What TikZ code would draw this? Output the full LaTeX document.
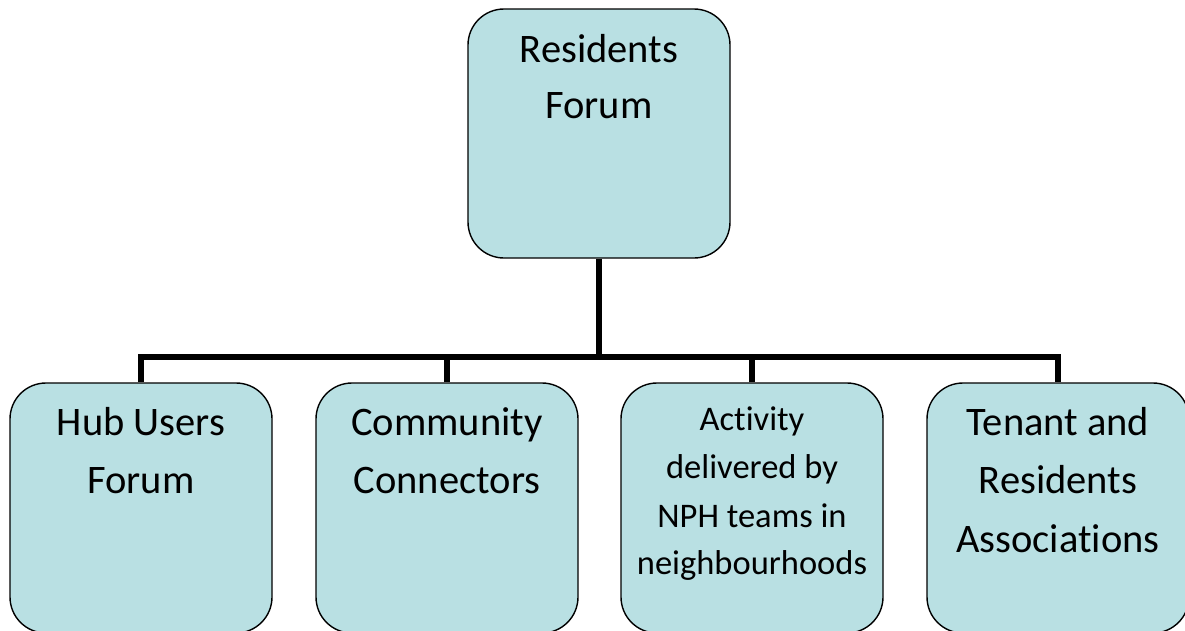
\documentclass[tikz,border=0pt]{standalone}
\usepackage{fontspec}
\setmainfont[Ligatures=NoCommon]{Carlito}
\definecolor{boxfill}{RGB}{185,224,227}
\tikzset{
  orgbox/.style={draw=black, line width=1.4pt, fill=boxfill, rounded corners=36pt,
    minimum width=262pt, inner sep=0pt},
  conn/.style={line width=5.5pt, line join=miter, line cap=butt},
  bigtext/.style={anchor=base, inner sep=0pt, font=\fontsize{40.5}{58}\selectfont},
  smalltext/.style={anchor=base, inner sep=0pt, font=\fontsize{34.5}{48}\selectfont},
}
\begin{document}
\begin{tikzpicture}[x=1pt, y=-1pt]
  \useasboundingbox (0,0) rectangle (1185,630);
  \clip (0,0) rectangle (1185,630);
  % boxes
  \node[orgbox, minimum height=249pt] (top) at (599,133.5) {};
  \node[orgbox, minimum height=250pt] (b1) at (141,508) {};
  \node[orgbox, minimum height=250pt] (b2) at (447,508) {};
  \node[orgbox, minimum height=250pt] (b3) at (752,508) {};
  \node[orgbox, minimum height=250pt] (b4) at (1058,508) {};
  % connectors
  \coordinate (bar) at (599,357);
  \draw[conn] (top.south) -- (bar);
  \draw[conn] (b1.north) -- (b1.north |- bar) -- (b4.north |- bar) -- (b4.north);
  \draw[conn] (b2.north) -- (b2.north |- bar);
  \draw[conn] (b3.north) -- (b3.north |- bar);
  % labels
  \node[bigtext] (t1) at (599,62) {Residents};
  \node[bigtext] (t2) at (599,118) {Forum};
  \node[bigtext] (h1) at (141,435) {Hub Users};
  \node[bigtext] (h2) at (141,493) {Forum};
  \node[bigtext] (c1) at (447,435) {Community};
  \node[bigtext] (c2) at (447,493) {Connectors};
  \node[smalltext] (a1) at (752,430) {Activity};
  \node[smalltext] (a2) at (752,478) {delivered by};
  \node[smalltext] (a3) at (752,527) {NPH teams in};
  \node[smalltext] (a4) at (752,574) {neighbourhoods};
  \node[bigtext] (r1) at (1058,435) {Tenant and};
  \node[bigtext] (r2) at (1058,493) {Residents};
  \node[bigtext] (r3) at (1058,552) {Associations};
\end{tikzpicture}
\end{document}
